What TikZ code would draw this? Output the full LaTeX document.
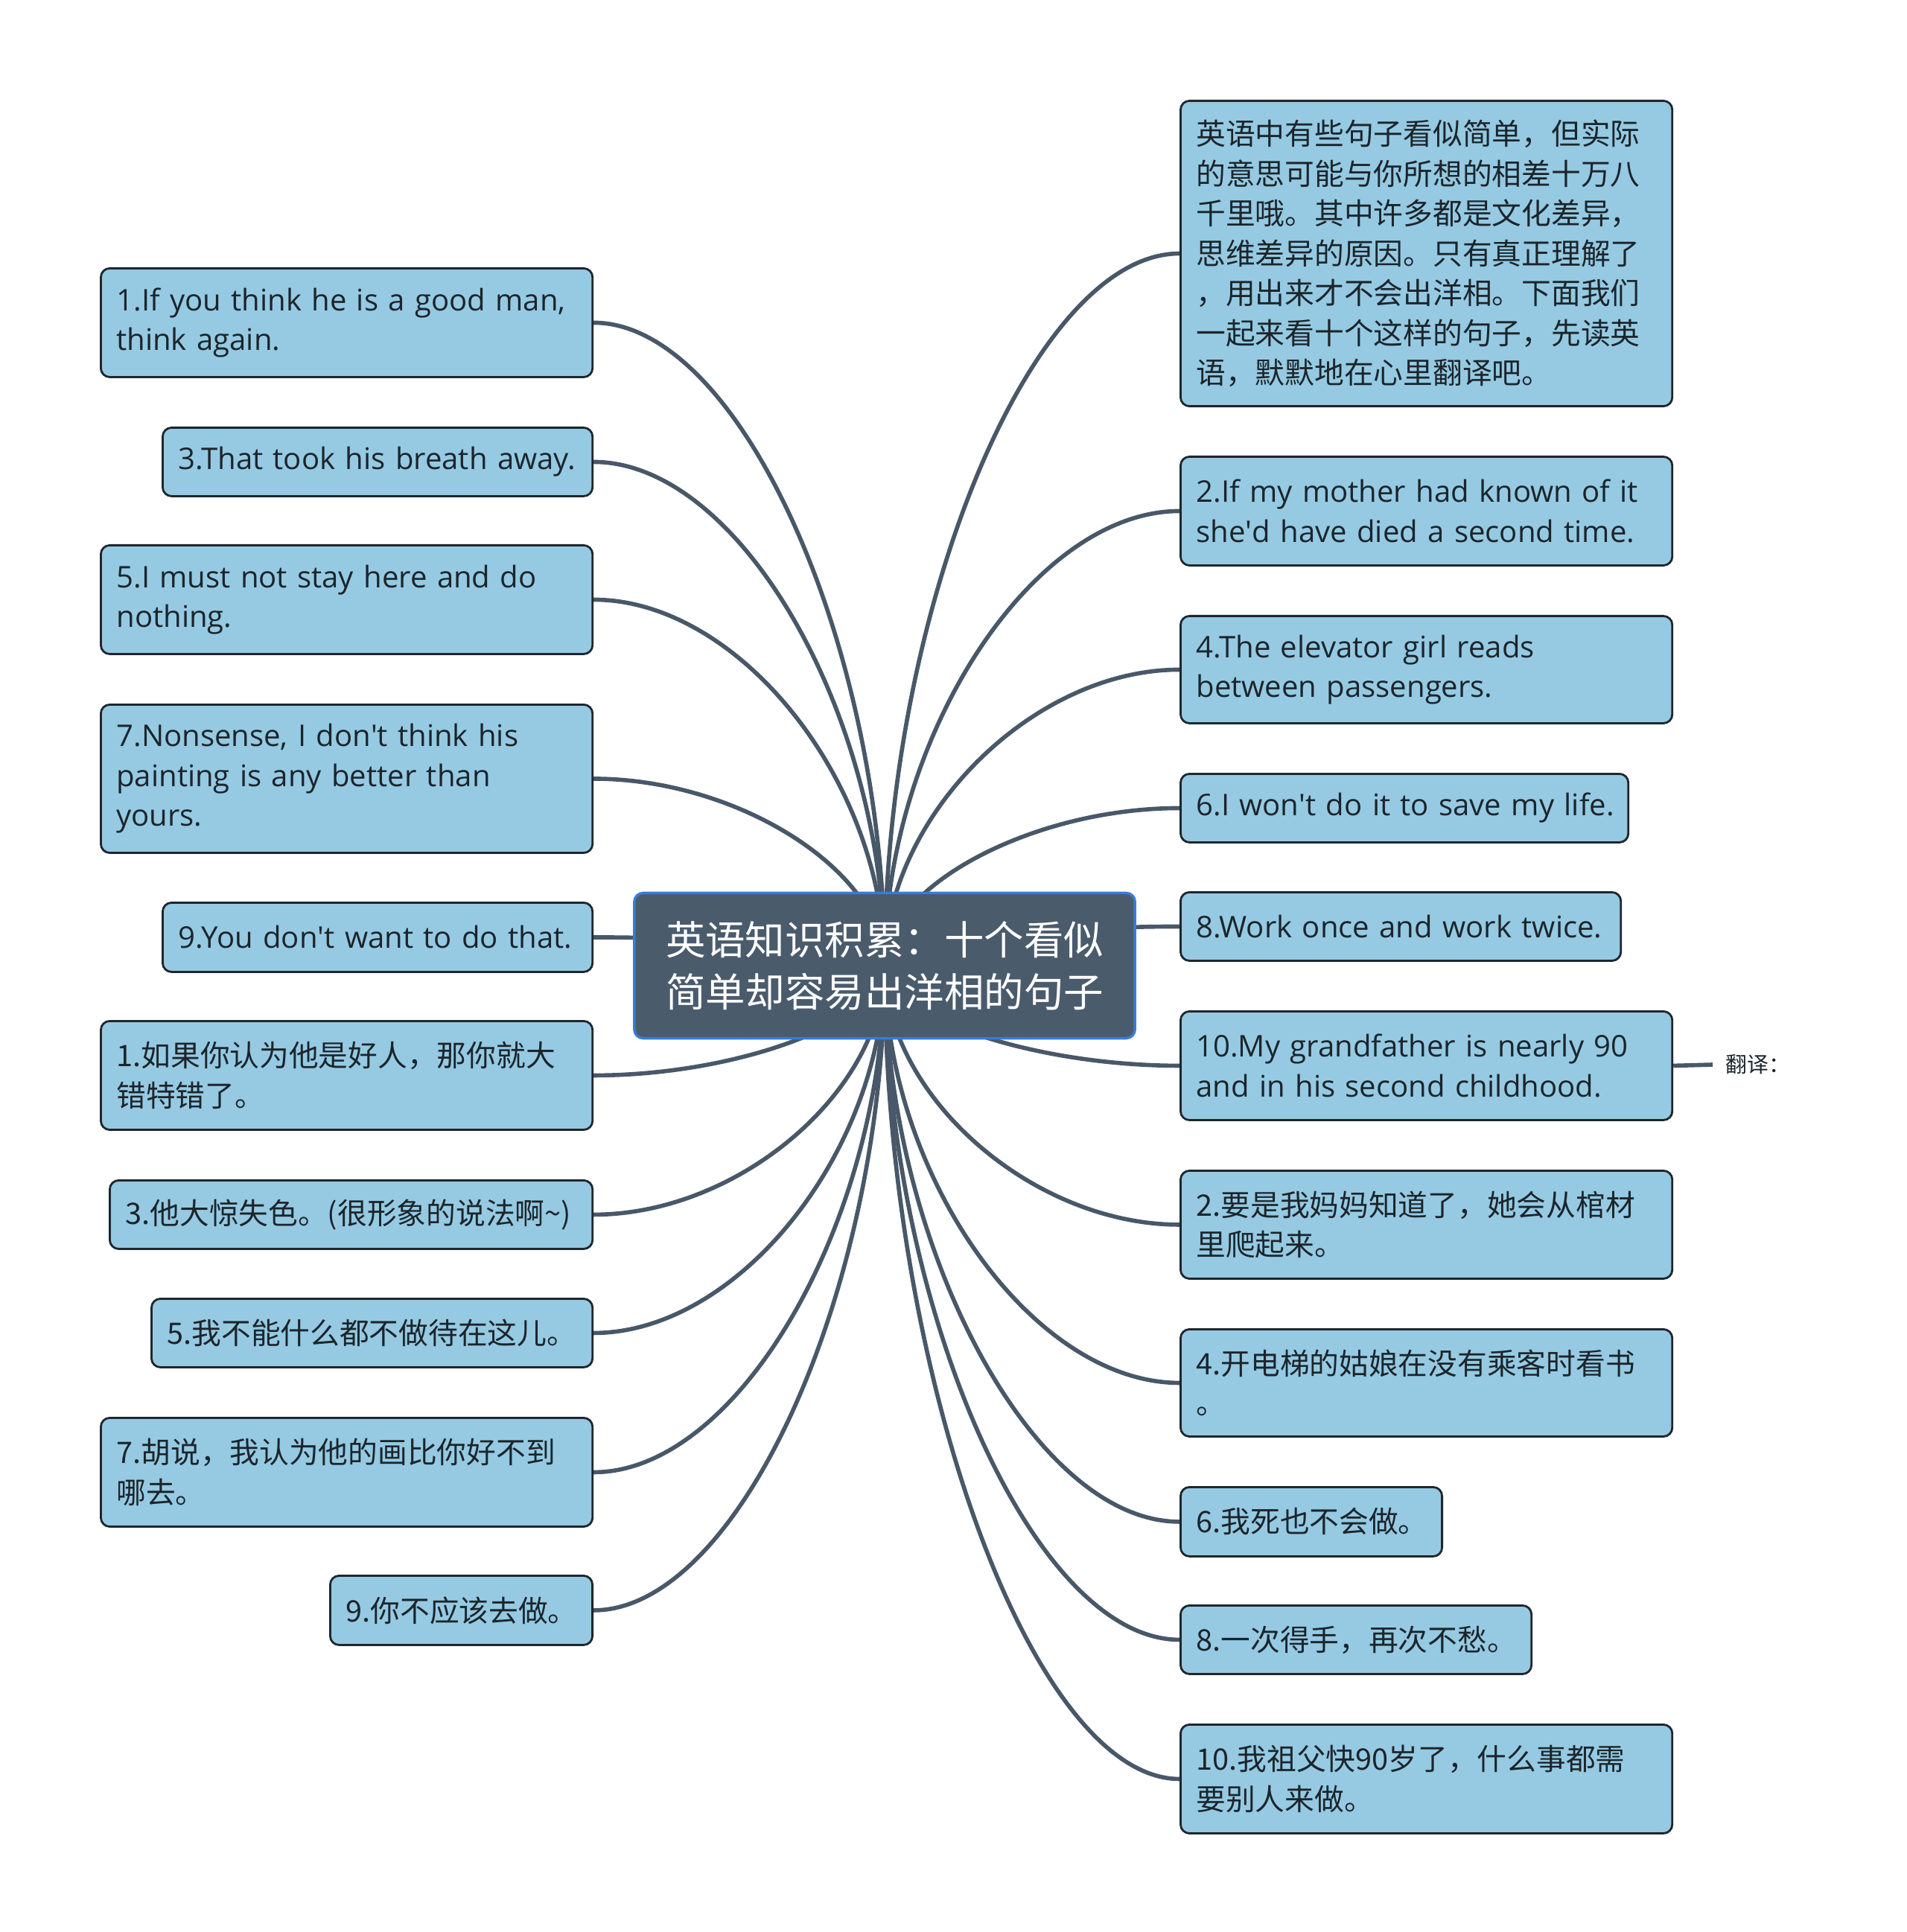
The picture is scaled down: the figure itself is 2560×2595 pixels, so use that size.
\documentclass[tikz,border=0pt]{standalone}
\usepackage{fontspec}
\setmainfont{Open Sans}
\newfontfamily\cjk{Noto Sans CJK SC}
\usetikzlibrary{calc,backgrounds}
\definecolor{mapfill}{HTML}{96CAE3}
\definecolor{mapedge}{HTML}{1E272D}
\definecolor{maplink}{HTML}{485868}
\definecolor{maproot}{HTML}{4A5B6C}
\definecolor{maprootedge}{HTML}{3A7BD5}
\definecolor{mapink}{HTML}{1B252B}
\newcommand{\entxt}{\fontsize{11.4}{15.2}\selectfont}
\newcommand{\zhtxt}{\cjk\fontsize{11.3}{15.2}\selectfont}

\begin{document}
\begin{tikzpicture}[
  x=0.01cm,y=-0.01cm,
  leaf/.style={draw=mapedge,line width=0.8pt,fill=mapfill,rounded corners=0.12cm,anchor=north west,inner xsep=0.21cm,inner ysep=0pt,align=left,text=mapink},
  root/.style={draw=maprootedge,line width=1pt,fill=maproot,rounded corners=0.12cm,minimum width=6.72cm,minimum height=1.95cm,align=center,text=white,font=\cjk\fontsize{15.2}{19.8}\selectfont},
  link/.style={draw=maplink,line width=1.6pt,to path={.. controls ($(\tikztostart)!0.5!(\tikztostart |- \tikztotarget)$) and ($(\tikztostart |- \tikztotarget)!0.5!(\tikztotarget)$) .. (\tikztotarget)}}
]
\useasboundingbox (0,0) rectangle (2560,2595);

\node[root] (root) at (1188,1297) {英语知识积累：十个看似\\简单却容易出洋相的句子};

% left side
\node[leaf,minimum width=6.60cm,minimum height=1.46cm,text width=6.18cm,font=\entxt] (l1) at (134,359) {1.If you think he is a good man,\\think again.};
\node[leaf,minimum width=5.77cm,minimum height=0.92cm,text width=5.35cm,font=\entxt] (l3) at (217,573) {\mbox{3.That took his breath away.}};
\node[leaf,minimum width=6.60cm,minimum height=1.46cm,text width=6.18cm,font=\entxt] (l5) at (134,731) {5.I must not stay here and do\\nothing.};
\node[leaf,minimum width=6.60cm,minimum height=1.99cm,text width=6.18cm,font=\entxt] (l7) at (134,945) {7.Nonsense, I don\textquotesingle t think his\\painting is any better than\\yours.};
\node[leaf,minimum width=5.77cm,minimum height=0.93cm,text width=5.35cm,font=\entxt] (l9) at (217,1211) {\mbox{9.You don\textquotesingle t want to do that.}};
\node[leaf,minimum width=6.60cm,minimum height=1.46cm,text width=6.18cm,font=\zhtxt] (lc1) at (134,1370) {1.如果你认为他是好人，那你就大\\错特错了。};
\node[leaf,minimum width=6.48cm,minimum height=0.92cm,text width=6.06cm,font=\zhtxt] (lc3) at (146,1584) {3.他大惊失色。(很形象的说法啊\textasciitilde)};
\node[leaf,minimum width=5.92cm,minimum height=0.92cm,text width=5.50cm,font=\zhtxt] (lc5) at (202,1743) {5.我不能什么都不做待在这儿。};
\node[leaf,minimum width=6.60cm,minimum height=1.46cm,text width=6.18cm,font=\zhtxt] (lc7) at (134,1903) {7.胡说，我认为他的画比你好不到\\哪去。};
\node[leaf,minimum width=3.52cm,minimum height=0.93cm,text width=3.10cm,font=\zhtxt] (lc9) at (442,2115) {9.你不应该去做。};

% right side
\node[leaf,minimum width=6.60cm,minimum height=4.10cm,text width=6.18cm,font=\zhtxt] (r0) at (1584,134) {英语中有些句子看似简单，但实际\\的意思可能与你所想的相差十万八\\千里哦。其中许多都是文化差异，\\思维差异的原因。只有真正理解了\\，用出来才不会出洋相。下面我们\\一起来看十个这样的句子，先读英\\语，默默地在心里翻译吧。};
\node[leaf,minimum width=6.60cm,minimum height=1.46cm,text width=6.18cm,font=\entxt] (r2) at (1584,612) {2.If my mother had known of it\\she\textquotesingle d have died a second time.};
\node[leaf,minimum width=6.60cm,minimum height=1.44cm,text width=6.18cm,font=\entxt] (r4) at (1584,826) {4.The elevator girl reads\\between passengers.};
\node[leaf,minimum width=6.01cm,minimum height=0.92cm,text width=5.59cm,font=\entxt] (r6) at (1584,1038) {\mbox{6.I won\textquotesingle t do it to save my life.}};
\node[leaf,minimum width=5.91cm,minimum height=0.92cm,text width=5.49cm,font=\entxt] (r8) at (1584,1197) {\mbox{8.Work once and work twice.}};
\node[leaf,minimum width=6.60cm,minimum height=1.46cm,text width=6.18cm,font=\entxt] (r10) at (1584,1357) {10.My grandfather is nearly 90\\and in his second childhood.};
\node[leaf,minimum width=6.60cm,minimum height=1.45cm,text width=6.18cm,font=\zhtxt] (rc2) at (1584,1571) {2.要是我妈妈知道了，她会从棺材\\里爬起来。};
\node[leaf,minimum width=6.60cm,minimum height=1.44cm,text width=6.18cm,font=\zhtxt] (rc4) at (1584,1784) {4.开电梯的姑娘在没有乘客时看书\\。};
\node[leaf,minimum width=3.51cm,minimum height=0.93cm,text width=3.09cm,font=\zhtxt] (rc6) at (1584,1996) {6.我死也不会做。};
\node[leaf,minimum width=4.71cm,minimum height=0.92cm,text width=4.29cm,font=\zhtxt] (rc8) at (1584,2155) {8.一次得手，再次不愁。};
\node[leaf,minimum width=6.60cm,minimum height=1.46cm,text width=6.18cm,font=\zhtxt] (rc10) at (1584,2315) {10.我祖父快90岁了，什么事都需\\要别人来做。};
\node[anchor=west,inner sep=0pt,text=mapink,font=\cjk\fontsize{8.2}{10}\selectfont] (trans) at (2317,1430) {翻译：};

\begin{scope}[on background layer]
\draw[link] (root.center) to (l1.east);
\draw[link] (root.center) to (l3.east);
\draw[link] (root.center) to (l5.east);
\draw[link] (root.center) to (l7.east);
\draw[link] (root.center) to (l9.east);
\draw[link] (root.center) to (lc1.east);
\draw[link] (root.center) to (lc3.east);
\draw[link] (root.center) to (lc5.east);
\draw[link] (root.center) to (lc7.east);
\draw[link] (root.center) to (lc9.east);
\draw[link] (root.center) to (r0.west);
\draw[link] (root.center) to (r2.west);
\draw[link] (root.center) to (r4.west);
\draw[link] (root.center) to (r6.west);
\draw[link] (root.center) to (r8.west);
\draw[link] (root.center) to (r10.west);
\draw[link] (root.center) to (rc2.west);
\draw[link] (root.center) to (rc4.west);
\draw[link] (root.center) to (rc6.west);
\draw[link] (root.center) to (rc8.west);
\draw[link] (root.center) to (rc10.west);
\draw[draw=maplink,line width=1.6pt] (r10.east) -- ([xshift=-0.17cm]trans.west);
\end{scope}
\end{tikzpicture}
\end{document}
